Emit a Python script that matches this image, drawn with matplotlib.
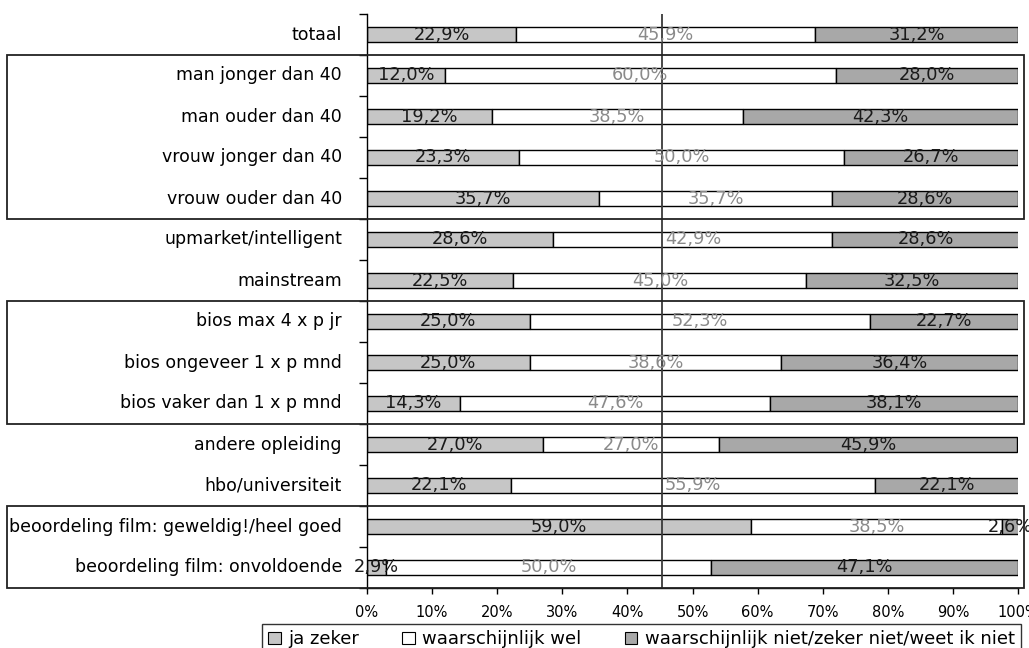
import matplotlib
matplotlib.use("Agg")
import matplotlib.pyplot as plt
from matplotlib.patches import Patch, Rectangle
from matplotlib.transforms import blended_transform_factory
import numpy as np

# %%
categories = [
    "totaal",
    "man jonger dan 40",
    "man ouder dan 40",
    "vrouw jonger dan 40",
    "vrouw ouder dan 40",
    "upmarket/intelligent",
    "mainstream",
    "bios max 4 x p jr",
    "bios ongeveer 1 x p mnd",
    "bios vaker dan 1 x p mnd",
    "andere opleiding",
    "hbo/universiteit",
    "beoordeling film: geweldig!/heel goed",
    "beoordeling film: onvoldoende",
]

ja_zeker = [22.9, 12.0, 19.2, 23.3, 35.7, 28.6, 22.5, 25.0, 25.0, 14.3, 27.0, 22.1, 59.0, 2.9]
waarschijnlijk_wel = [45.9, 60.0, 38.5, 50.0, 35.7, 42.9, 45.0, 52.3, 38.6, 47.6, 27.0, 55.9, 38.5, 50.0]
niet_weet = [31.2, 28.0, 42.3, 26.7, 28.6, 28.6, 32.5, 22.7, 36.4, 38.1, 45.9, 22.1, 2.6, 47.1]

series_names = [
    "ja zeker",
    "waarschijnlijk wel",
    "waarschijnlijk niet/zeker niet/weet ik niet",
]
series_colors = ["#c6c6c6", "#ffffff", "#a8a8a8"]
label_colors = ["#1a1a1a", "#8a8a8a", "#1a1a1a"]

# groups of rows framed together (first row, last row)
groups = [(1, 4), (7, 9), (12, 13)]
ref_line = 45.3

# %%
W, H = 1029, 648
fig = plt.figure(figsize=(W / 100, H / 100), dpi=100)
ax = fig.add_axes([367 / W, 1 - 588 / H, (1018 - 367) / W, (588 - 14) / H])

y = np.arange(len(categories))
left = np.zeros(len(categories))
for vals, color, tcolor in zip([ja_zeker, waarschijnlijk_wel, niet_weet],
                               series_colors, label_colors):
    vals = np.array(vals)
    ax.barh(y, vals, left=left, height=0.39, color=color,
            edgecolor="black", linewidth=1.0, zorder=2)
    for yi, l, v in zip(y, left, vals):
        ax.text(l + v / 2, yi, f"{v:.1f}%".replace(".", ","),
                ha="center", va="center", fontsize=12.8, color=tcolor,
                zorder=4, clip_on=False)
    left = left + vals

ax.axvline(ref_line, color="#3a3a3a", lw=1.3, zorder=3)

ax.set_xlim(0, 100)
ax.set_ylim(len(categories) - 0.5, -0.5)
ax.set_xticks(np.arange(0, 101, 10))
ax.set_xticklabels([f"{t}%" for t in range(0, 101, 10)])
ax.set_yticks(y)
ax.set_yticklabels(categories)
for lab in ax.get_yticklabels():
    lab.set_verticalalignment("center")
ax.set_yticks(np.arange(len(categories) + 1) - 0.5, minor=True)
ax.tick_params(axis="y", which="major", length=0, pad=18, labelsize=12.5)
ax.tick_params(axis="y", which="minor", length=6, width=1, direction="out")
ax.tick_params(axis="x", length=4, width=1, direction="out", pad=8,
               labelsize=10.5)
for s in ["top", "right"]:
    ax.spines[s].set_visible(False)
for s in ["left", "bottom"]:
    ax.spines[s].set_linewidth(1.0)

# frames around grouped rows, running across labels and bars
trans = blended_transform_factory(fig.transFigure, ax.transData)
for a, b in groups:
    ax.add_patch(Rectangle((7 / W, a - 0.5), (1024 - 7) / W, b - a + 1,
                           transform=trans, fill=False, edgecolor="#222222",
                           lw=1.3, clip_on=False, zorder=5))

handles = [Patch(facecolor=c, edgecolor="black", lw=0.8) for c in series_colors]
fig.legend(handles, series_names, ncol=3, loc="upper left",
           bbox_to_anchor=(262 / W, 1 - 624 / H), frameon=True,
           fancybox=False, edgecolor="black", fontsize=13,
           handlelength=0.7, handleheight=0.7, handletextpad=0.4,
           columnspacing=2.4, borderpad=0.35, borderaxespad=0)

fig.savefig("out.png", dpi=100)
